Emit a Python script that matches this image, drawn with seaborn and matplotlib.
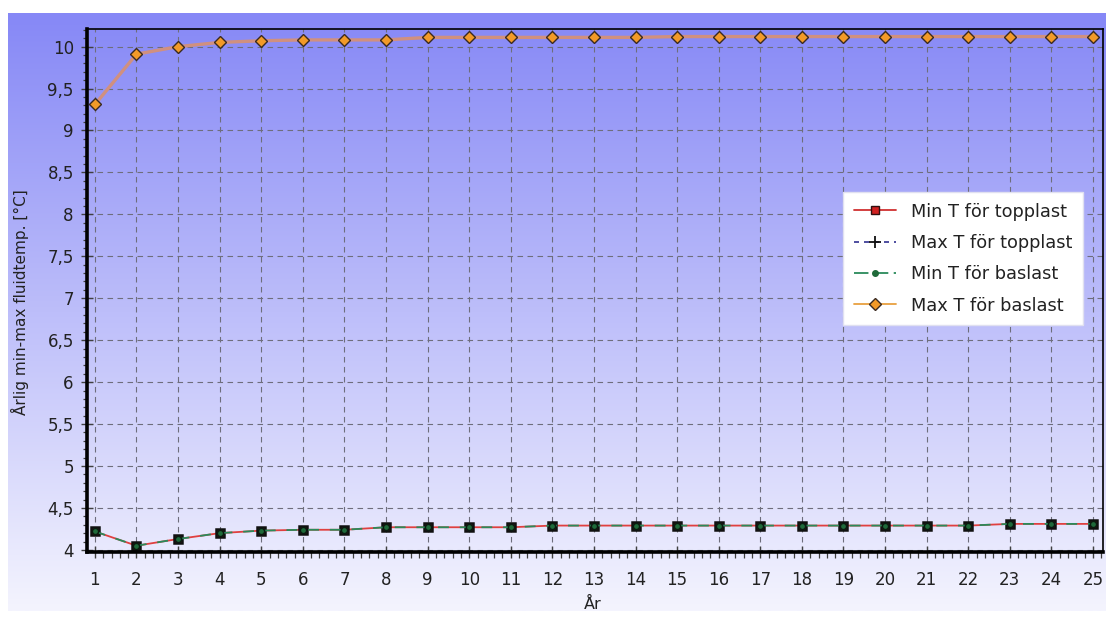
import numpy as np
import pandas as pd
import matplotlib
matplotlib.use("Agg")
import matplotlib.pyplot as plt
from matplotlib.lines import Line2D
from matplotlib.ticker import MultipleLocator, FuncFormatter
import seaborn as sns

# Yearly fluid temperatures
years = list(range(1, 26))
min_topplast = [4.22, 4.05, 4.13, 4.20, 4.23, 4.24, 4.24, 4.27, 4.27, 4.27,
                4.27, 4.29, 4.29, 4.29, 4.29, 4.29, 4.29, 4.29, 4.29, 4.29,
                4.29, 4.29, 4.31, 4.31, 4.31]
min_baslast = list(min_topplast)
max_baslast = [9.31, 9.91, 10.00, 10.05, 10.07, 10.08, 10.08, 10.08, 10.11, 10.11,
               10.11, 10.11, 10.11, 10.11, 10.12, 10.12, 10.12, 10.12, 10.12, 10.12,
               10.12, 10.12, 10.12, 10.12, 10.12]
series_labels = ["Min T för topplast", "Max T för topplast",
                 "Min T för baslast", "Max T för baslast"]

df = pd.DataFrame({"year": years, "min_top": min_topplast,
                   "min_bas": min_baslast, "max_bas": max_baslast})

sns.set_style("ticks")
plt.rcParams["font.family"] = ["DejaVu Sans"]

W, H = 1114, 618
fig = plt.figure(figsize=(W / 100, H / 100), dpi=100)
fig.patch.set_facecolor("white")

# Gradient panel behind the chart
bg = fig.add_axes([8 / W, 7 / H, 1098 / W, 598 / H], zorder=0)
grad = np.linspace(0, 1, 256).reshape(-1, 1)
top_c = np.array([0x86, 0x88, 0xf6]) / 255
bot_c = np.array([0xf4, 0xf4, 0xfe]) / 255
img = top_c[None, None, :] * (1 - grad[:, :, None]) + bot_c[None, None, :] * grad[:, :, None]
bg.imshow(img, aspect="auto", extent=[0, 1, 0, 1])
bg.axis("off")

ax = fig.add_axes([87 / W, 1 - 552 / H, (1103 - 87) / W, (552 - 29) / H], zorder=1)
ax.patch.set_alpha(0)

ax.set_xlim(0.81, 25.24)
ax.set_ylim(3.975, 10.21)

# Grid
ax.xaxis.set_major_locator(MultipleLocator(1))
ax.xaxis.set_minor_locator(MultipleLocator(0.2))
ax.yaxis.set_major_locator(MultipleLocator(0.5))
ax.yaxis.set_minor_locator(MultipleLocator(0.1))
ax.grid(True, which="major", color="#6e6e7c", linestyle=(0, (5, 4)), linewidth=0.8)
ax.set_axisbelow(True)

# Series
sns.lineplot(data=df, x="year", y="max_bas", ax=ax, color="#d0907f", linewidth=2.4,
             marker="D", markersize=6, markerfacecolor="#f29a28",
             markeredgecolor="#3a2a20", markeredgewidth=1.0, zorder=3)
sns.lineplot(data=df, x="year", y="min_top", ax=ax, color="#e04040", linewidth=1.3,
             marker="s", markersize=6, markerfacecolor="#b02020",
             markeredgecolor="#101010", markeredgewidth=1.8, zorder=4)
sns.lineplot(data=df, x="year", y="min_bas", ax=ax, color="#2a8a5a", linewidth=1.3,
             zorder=5)
ax.lines[-1].set_dashes((6, 6))
sns.lineplot(data=df, x="year", y="min_bas", ax=ax, color="none", linewidth=0,
             marker="o", markersize=4.5, markerfacecolor="#1f6a3a",
             markeredgecolor="#0a1a10", markeredgewidth=1.1, zorder=6)

# Axes styling
for side in ["top", "right"]:
    ax.spines[side].set_linewidth(1.2)
for side in ["left", "bottom"]:
    ax.spines[side].set_linewidth(2.6)
for s in ax.spines.values():
    s.set_color("black")
    s.set_zorder(7)

ax.tick_params(axis="both", which="major", direction="inout", length=9, width=1,
               color="#404040", labelsize=12, labelcolor="#222222")
ax.tick_params(axis="x", which="minor", direction="out", length=4, width=0.9, color="#404040")
ax.tick_params(axis="y", which="minor", direction="out", length=3, width=0.9, color="#404040")
ax.tick_params(axis="x", which="major", pad=9)
ax.tick_params(axis="y", which="major", pad=5)
ax.yaxis.set_major_formatter(FuncFormatter(lambda v, p: f"{v:g}".replace(".", ",")))

ax.set_xlabel("År", fontsize=11.5, color="#222222")
ax.set_ylabel("Årlig min-max fluidtemp. [°C]", fontsize=11, color="#222222")
ax.xaxis.set_label_coords((593 - 87) / (1103 - 87), -(604 - 552) / (552 - 29))
ax.yaxis.set_label_coords(-(87 - 20) / (1103 - 87), (552 - 302) / (552 - 29))
ax.xaxis.label.set_va("center")
ax.yaxis.label.set_va("center")

# Legend
handles = [
    Line2D([], [], color="#d03030", linewidth=1.3, marker="s", markersize=6,
           markerfacecolor="#d02020", markeredgecolor="#301010"),
    Line2D([], [], color="#303090", linewidth=1.2, linestyle=(0, (3, 3)), marker="+",
           markersize=9, markeredgecolor="#101010", markeredgewidth=1.3),
    Line2D([], [], color="#2a8a5a", linewidth=1.3, linestyle=(0, (8, 3)), marker="o",
           markersize=4, markerfacecolor="#1f6a3a", markeredgecolor="#1f6a3a"),
    Line2D([], [], color="#e8a040", linewidth=1.3, marker="D", markersize=6,
           markerfacecolor="#f29a28", markeredgecolor="#3a2a20"),
]
leg = ax.legend(handles, series_labels, loc="upper left",
                bbox_to_anchor=((843 - 87) / (1103 - 87), 1 - (192 - 29) / (552 - 29)),
                prop={"family": "DejaVu Sans", "size": 12.8},
                frameon=True, fancybox=False, framealpha=1,
                edgecolor="#e0e0f0", facecolor="white", handlelength=2.4,
                borderpad=0.6, labelspacing=0.75, handletextpad=0.85, borderaxespad=0)
leg.set_zorder(10)
for t in leg.get_texts():
    t.set_color("#222222")

fig.savefig("out.png", dpi=100)
